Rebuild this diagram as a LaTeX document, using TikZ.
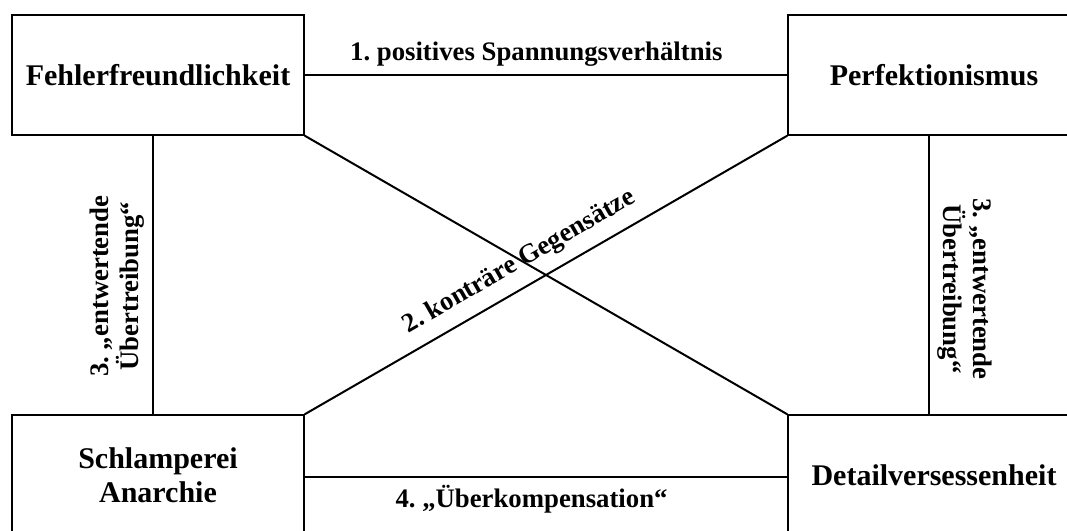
\documentclass[tikz,border=0pt]{standalone}
\usepackage{fontspec}
\setmainfont{Liberation Serif}
\frenchspacing
\begin{document}
\begin{tikzpicture}[x=0.4pt,y=-0.4pt,line join=miter]
\tikzset{feld/.style={draw,line width=0.55pt,minimum width=116.8pt,minimum height=48pt,inner sep=0pt,align=center,font=\bfseries\fontsize{12}{13.5}\selectfont},
	verb/.style={line width=0.8pt},
	txt/.style={font=\bfseries\fontsize{10.7}{12}\selectfont,align=center,inner sep=3pt}}
\useasboundingbox (0,0) rectangle (1067,531);
\clip (0,0) rectangle (1067,531);
% die vier Felder
\node[feld] (fehler) at (158,75) {Fehlerfreundlichkeit};
\node[feld] (perfekt) at (934,75) {Perfektionismus};
\node[feld] (schlamp) at (158,475) {Schlamperei\\Anarchie};
\node[feld] (detail) at (934,475) {Detailversessenheit};
% Verbindungen
\draw[verb] (fehler) -- node[txt,above,pos=0.48]{1. positives Spannungsverhältnis} (perfekt);
\draw[verb] ([yshift=-0.8pt]schlamp.east) -- node[txt,below,pos=0.47]{4. „Überkompensation“} ([yshift=-0.8pt]detail.west);
\draw[verb] ([xshift=-2pt]schlamp.north) -- node[txt,above,sloped,pos=0.46]{3. „entwertende\\Übertreibung“} ([xshift=-2pt]fehler.south);
\draw[verb] ([xshift=-2pt]perfekt.south) -- node[txt,above,sloped,pos=0.55]{3. „entwertende\\Übertreibung“} ([xshift=-2pt]detail.north);
\draw[verb] (fehler.south east) -- (detail.north west);
\draw[verb] (schlamp.north east) -- node[txt,above=1.5pt,sloped,pos=0.47]{2. konträre Gegensätze} (perfekt.south west);
\end{tikzpicture}
\end{document}
